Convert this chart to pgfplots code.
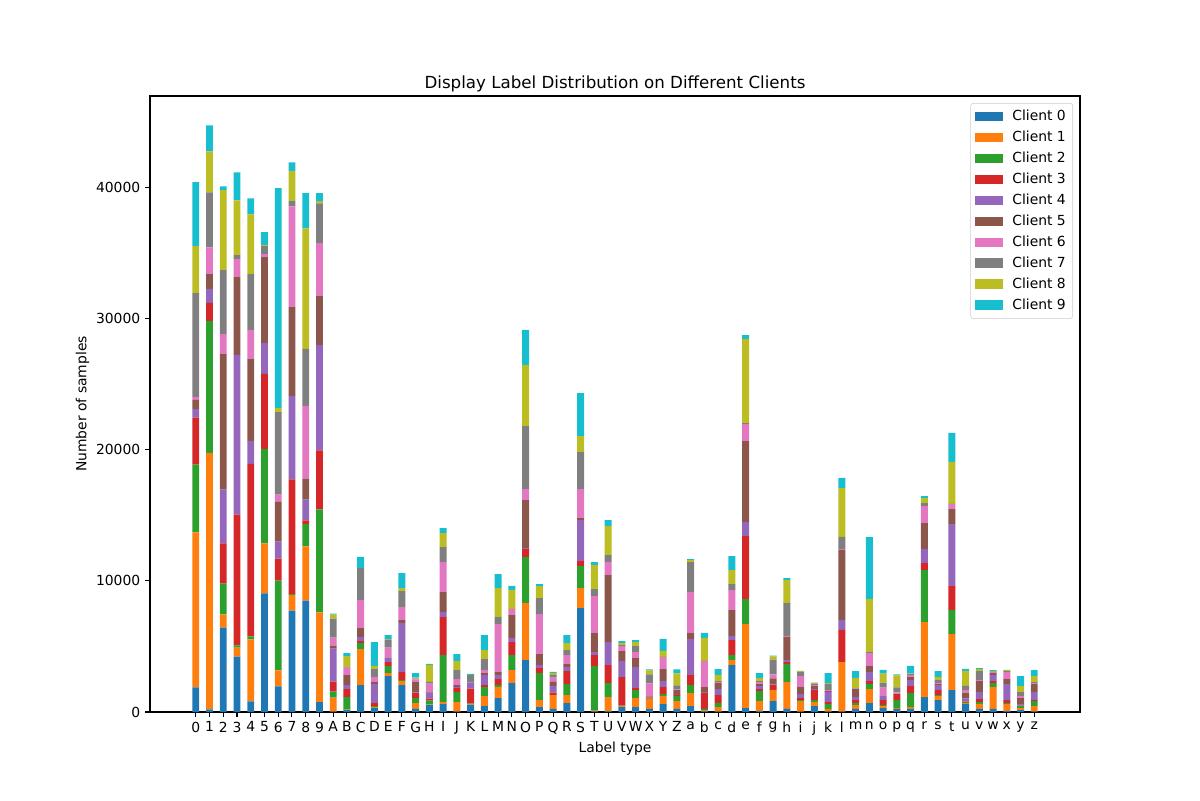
\documentclass[border=0pt]{standalone}
\usepackage{fontspec}
\setmainfont{DejaVu Sans}
\usepackage{pgfplots}
\usepackage{pgfplotstable}
\pgfplotsset{compat=1.18}
\definecolor{c0}{HTML}{1F77B4}
\definecolor{c1}{HTML}{FF7F0E}
\definecolor{c2}{HTML}{2CA02C}
\definecolor{c3}{HTML}{D62728}
\definecolor{c4}{HTML}{9467BD}
\definecolor{c5}{HTML}{8C564B}
\definecolor{c6}{HTML}{E377C2}
\definecolor{c7}{HTML}{7F7F7F}
\definecolor{c8}{HTML}{BCBD22}
\definecolor{c9}{HTML}{17BECF}
\pgfplotstableread{
x a0 a1 a2 a3 a4 a5 a6 a7 a8 a9
0 1877 11807 5168 3580 664 693 231 7910 3580 4879
1 200 19547 10047 1386 1068 1126 2049 4187 3118 1992
2 6438 1010 2339 3060 4100 10335 1530 4879 6092 289
3 4215 693 173 9960 12183 5919 1386 288 4186 2137
4 808 4735 231 13136 1761 6236 2223 4244 4561 1213
5 9036 3811 7218 5716 2338 6554 231 606 87 981
6 1963 1213 6842 1674 1300 3031 548 6294 318 16744
7 7737 1184 86 8719 6380 6756 7679 405 2309 635
8 8488 4128 1704 288 1588 1588 5543 4359 9181 2685
9 751 6842 7852 4504 8026 3724 4042 3031 174 606
10 30 1067 457 762 2515 228 610 1448 304 77
11 152 20 971 610 304 762 559 51 838 229
12 2057 2744 457 152 305 686 2133 2439 20 838
13 305 76 76 229 1448 152 381 610 228 1829
14 2743 229 533 305 305 30 762 609 30 305
15 2057 305 76 610 3734 228 991 1219 229 1143
16 229 457 381 381 30 808 203 50 76 356
17 533 20 305 153 457 76 610 152 1295 77
18 610 152 3581 2896 381 1524 2286 1143 1067 381
19 20 742 762 305 76 152 458 685 686 534
20 533 20 77 1143 457 20 20 533 20 76
21 457 762 686 152 762 153 228 839 685 1143
22 1067 838 152 458 304 229 3658 533 2210 1067
23 2210 990 1143 991 305 1752 458 20 1447 305
24 3962 4344 3505 610 76 3657 839 4800 4648 2667
25 381 533 2058 381 228 839 3048 1219 914 153
26 229 1066 20 153 533 305 305 228 153 76
27 686 609 839 990 305 229 685 381 534 609
28 7925 1524 1676 381 3124 153 2210 2819 1219 3277
29 76 76 3353 838 229 1448 2819 534 1828 229
30 76 1067 1067 1371 1753 5105 991 533 2210 457
31 381 76 20 2190 1219 762 381 76 153 152
32 381 686 609 153 1600 686 457 457 305 152
33 229 762 20 76 20 76 991 685 305 76
34 610 609 153 533 457 915 914 20 457 915
35 229 609 381 76 20 381 20 305 915 304
36 457 991 609 762 2744 457 3124 2286 152 77
37 76 76 77 1219 76 381 1981 20 1753 381
38 20 361 305 609 458 457 76 76 457 458
39 3581 381 381 1143 305 1981 1524 458 1066 1067
40 305 6401 1905 4800 1067 6172 1296 76 6401 304
41 76 762 762 153 228 153 152 76 229 381
42 838 838 20 381 20 458 304 1143 229 76
43 229 2057 1372 152 152 1753 76 2515 1752 153
44 20 818 76 153 305 533 838 305 76 20
45 457 305 152 762 77 228 76 77 76 20
46 20 209 381 152 762 76 76 458 76 762
47 20 3790 20 2438 762 5334 77 914 3734 762
48 229 304 153 228 229 610 20 56 762 533
49 686 1067 381 228 686 457 991 76 4039 4724
50 305 152 76 381 305 20 610 381 686 304
51 229 76 609 458 20 20 76 381 914 76
52 229 152 1067 533 457 229 152 77 20 609
53 1143 5715 3962 534 1067 1981 1295 229 381 152
54 914 305 76 381 381 77 76 228 229 457
55 1676 4268 1828 1829 4725 1143 381 20 3200 2210
56 610 76 76 20 229 457 228 305 1143 153
57 229 381 152 229 533 838 76 686 153 76
58 229 1676 305 152 457 153 76 20 56 76
59 76 534 76 228 1220 381 533 76 76 20
60 152 153 152 20 133 457 152 305 457 762
61 20 437 381 76 610 610 76 76 457 457
}\data
\begin{document}
\begin{tikzpicture}
\useasboundingbox (0,0) rectangle (864pt,576pt);
\begin{axis}[
  at={(108pt,63.36pt)}, anchor=south west,
  scale only axis, width=669.6pt, height=443.52pt,
  ybar stacked, bar width=0.5,
  xmin=-3.325, xmax=64.325, ymin=0, ymax=46956,
  xtick={0,...,61},
  xticklabels={0,1,2,3,4,5,6,7,8,9,A,B,C,D,E,F,G,H,I,J,K,L,M,N,O,P,Q,R,S,T,U,V,W,X,Y,Z,a,b,c,d,e,f,g,h,i,j,k,l,m,n,o,p,q,r,s,t,u,v,w,x,y,z},
  ytick={0,10000,20000,30000,40000},
  scaled y ticks=false,
  /pgf/number format/1000 sep={},
  /pgf/number format/assume math mode=true,
  tick pos=left, tick align=outside,
  major tick length=3.5pt,
  every tick/.style={black, line width=0.8pt},
  axis line style={line width=0.8pt},
  ticklabel style={font=\fontsize{10}{12}\selectfont},
  xlabel={Label type}, ylabel={Number of samples},
  label style={font=\fontsize{10}{12}\selectfont},
  xlabel style={yshift=2pt},
  ylabel style={yshift=-2pt},
  title={Display Label Distribution on Different Clients},
  title style={font=\fontsize{12}{14}\selectfont, yshift=-6.8pt},
  legend cell align=left,
  legend style={at={(0.9925,0.9886)}, anchor=north east, draw=black!20, rounded corners=2pt, font=\fontsize{10}{12}\selectfont, row sep=2pt, inner sep=3pt},
  legend image code/.code={\fill[#1, sharp corners] (-1pt,-3.5pt) rectangle (19pt,3.5pt); \path (24pt,0pt);},
]
\addplot[fill=c0, draw=none] table[x=x,y=a0]{\data};
\addplot[fill=c1, draw=none] table[x=x,y=a1]{\data};
\addplot[fill=c2, draw=none] table[x=x,y=a2]{\data};
\addplot[fill=c3, draw=none] table[x=x,y=a3]{\data};
\addplot[fill=c4, draw=none] table[x=x,y=a4]{\data};
\addplot[fill=c5, draw=none] table[x=x,y=a5]{\data};
\addplot[fill=c6, draw=none] table[x=x,y=a6]{\data};
\addplot[fill=c7, draw=none] table[x=x,y=a7]{\data};
\addplot[fill=c8, draw=none] table[x=x,y=a8]{\data};
\addplot[fill=c9, draw=none] table[x=x,y=a9]{\data};
\legend{Client 0,Client 1,Client 2,Client 3,Client 4,Client 5,Client 6,Client 7,Client 8,Client 9}
\end{axis}
\end{tikzpicture}
\end{document}
